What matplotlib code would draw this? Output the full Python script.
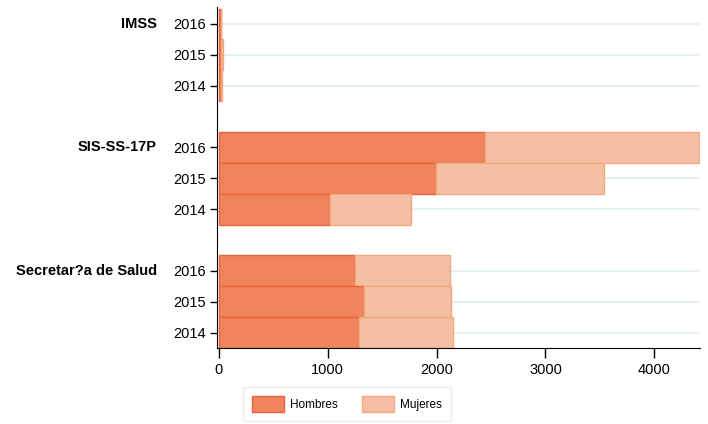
import matplotlib.pyplot as plt
from matplotlib.patches import Patch
from matplotlib.transforms import blended_transform_factory

plt.rcParams['font.family'] = ['Liberation Sans', 'DejaVu Sans']

grupos = ["IMSS", "SIS-SS-17P", "Secretar?a de Salud"]
anios = ["2016", "2015", "2014"]
hombres = [[18, 22, 15],
           [2445, 1995, 1020],
           [1250, 1333, 1287]]
mujeres = [[4, 18, 10],
           [1967, 1544, 745],
           [873, 799, 864]]

c_h = "#F0845C"
c_h_edge = "#E8643A"
c_m = "#F4BFA3"
c_m_edge = "#F2A882"

fig = plt.figure(figsize=(7.08, 4.24), dpi=100)
ax = fig.add_axes([217/708, 1-348/424, 483/708, 341/424])

pos = []
labels = []
for g in range(len(grupos)):
    for k in range(len(anios)):
        y = g*4 + k
        pos.append(y)
        labels.append(anios[k])
        ax.axhline(y, color="#E6EFF2", lw=1.5, zorder=0)
        h = hombres[g][k]
        m = mujeres[g][k]
        ax.barh(y, h, height=1.0, color=c_h, edgecolor=c_h_edge, lw=1, zorder=2)
        ax.barh(y, m, left=h, height=1.0, color=c_m, edgecolor=c_m_edge, lw=1, zorder=2)

trans = blended_transform_factory(fig.transFigure, ax.transData)
for g, name in enumerate(grupos):
    ax.text(157/708, g*4, name, transform=trans, ha="right", va="center",
            fontsize=10.5, fontweight="bold")

ax.set_yticks(pos)
ax.set_yticklabels(labels, fontsize=10.5)
ax.set_ylim(10.5, -0.55)
ax.set_xlim(-18, 4420)
ax.set_xticks([0, 1000, 2000, 3000, 4000])
ax.tick_params(axis="x", labelsize=10.5, length=7, width=1, pad=4)
ax.tick_params(axis="y", length=5, width=1, pad=3)
for s in ["top", "right"]:
    ax.spines[s].set_visible(False)

handles = [Patch(facecolor=c_h, edgecolor=c_h_edge, label="Hombres"),
           Patch(facecolor=c_m, edgecolor=c_m_edge, label="Mujeres")]
leg = fig.legend(handles=handles, ncol=2, loc="center",
                 bbox_to_anchor=(347/708, 1-404/424), fontsize=8.5,
                 handlelength=2.7, handleheight=1.6, columnspacing=2.1,
                 handletextpad=0.5, fancybox=False, borderpad=0.8)
leg.get_frame().set_edgecolor("#E3ECEE")
leg.get_frame().set_linewidth(1)

fig.savefig("out.png", dpi=100)
